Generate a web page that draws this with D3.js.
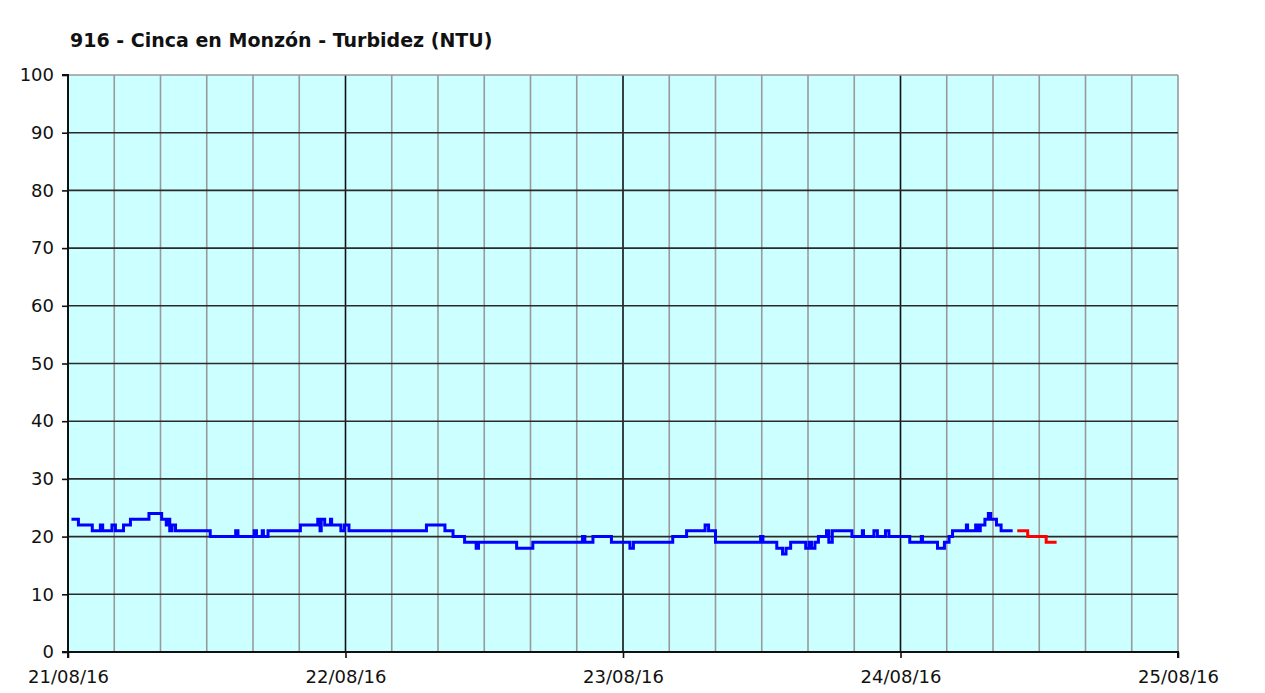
<!DOCTYPE html>
<html>
<head>
<meta charset="utf-8">
<title>916 - Cinca en Monzón - Turbidez (NTU)</title>
<script src="https://cdn.jsdelivr.net/npm/d3@7"></script>
<style>
  body { margin: 0; background: #fff; }
  text { font-family: "DejaVu Sans", Verdana, sans-serif; fill: #111; }
</style>
</head>
<body>
<svg id="graph" width="1265" height="693"></svg>
<script>
// hours from 21/08/16 00:00 where the value changes (step data), and the value from there on
var blueHours = [0.3, 0.9, 2.1, 2.8, 3.0, 3.8, 4.1, 4.8, 5.4, 7.0, 8.1, 8.5, 8.6, 8.8, 9.0, 9.3,
  12.3, 14.5, 14.7, 16.1, 16.3, 16.8, 16.9, 17.3, 20.1, 21.6, 21.8, 21.9, 22.2, 22.7, 22.8, 23.6, 23.9, 24.3,
  31.0, 32.6, 33.3, 34.3, 35.3, 35.5, 38.8, 40.2, 44.5, 44.7, 45.4, 47.0, 48.6, 48.9,
  52.3, 53.5, 55.1, 55.4, 56.0, 59.9, 60.1, 61.3, 61.8, 62.1, 62.5, 63.8, 64.1, 64.3, 64.6, 64.9,
  65.6, 65.8, 66.1, 67.8, 68.7, 68.8, 69.7, 70.0, 70.7, 71.0, 72.8, 73.8, 73.9, 75.2, 75.8, 76.2,
  76.5, 77.7, 77.8, 78.5, 78.7, 78.9, 79.3, 79.6, 79.8, 80.3, 80.7, 81.7];
var blueValues = [23, 22, 21, 22, 21, 22, 21, 22, 23, 24, 23, 22, 23, 21, 22, 21,
  20, 21, 20, 21, 20, 21, 20, 21, 22, 23, 21, 23, 22, 23, 22, 21, 22, 21,
  22, 21, 20, 19, 18, 19, 18, 19, 20, 19, 20, 19, 18, 19,
  20, 21, 22, 21, 19, 20, 19, 18, 17, 18, 19, 18, 19, 18, 19, 20,
  21, 19, 21, 20, 21, 20, 21, 20, 21, 20, 19, 20, 19, 18, 19, 20,
  21, 22, 21, 22, 21, 22, 23, 24, 23, 22, 21, 21];
var redHours = [82.1, 83.0, 84.6, 85.5];
var redValues = [21, 20, 19, 19];

var title = "916 - Cinca en Monzón - Turbidez (NTU)";
var yTicks = [0, 10, 20, 30, 40, 50, 60, 70, 80, 90, 100];
var start = new Date(2016, 7, 21), end = new Date(2016, 7, 25);

var svg = d3.select("#graph");
var plotL = 68, plotR = 1178, plotT = 75, plotB = 652;

var x = d3.scaleTime().domain([start, end]).range([plotL, plotR]);
var y = d3.scaleLinear().domain([0, 100]).range([plotB, plotT]);

svg.append("text")
  .attr("x", 70).attr("y", 47)
  .style("font-size", "19px").style("font-weight", "bold")
  .text(title);

svg.append("rect")
  .attr("x", plotL).attr("y", plotT)
  .attr("width", plotR - plotL).attr("height", plotB - plotT)
  .attr("fill", "#ccffff");

// 4 hour grid lines, black at midnight
svg.append("g").selectAll("line")
  .data(d3.timeHour.every(4).range(start, d3.timeHour.offset(end, 1)))
  .enter().append("line")
  .attr("x1", d => x(d)).attr("x2", d => x(d))
  .attr("y1", plotT).attr("y2", plotB)
  .attr("stroke", d => (d.getHours() == 0 && +d != +start && +d != +end) ? "#111" : "#9a9a9a")
  .attr("stroke-width", 1.6);

svg.append("g").selectAll("line")
  .data(yTicks.slice(1, -1))
  .enter().append("line")
  .attr("x1", plotL).attr("x2", plotR)
  .attr("y1", d => y(d)).attr("y2", d => y(d))
  .attr("stroke", "#2a2a2a").attr("stroke-width", 1.6);

svg.append("line")
  .attr("x1", plotL).attr("x2", plotR).attr("y1", plotT).attr("y2", plotT)
  .attr("stroke", "#9a9a9a").attr("stroke-width", 1.6);

function series(hours, values) {
  return hours.map((h, i) => ({ t: new Date(+start + h * 3600000), v: values[i] }));
}

var line = d3.line().x(d => x(d.t)).y(d => y(d.v)).curve(d3.curveStepAfter);

svg.append("path").datum(series(blueHours, blueValues))
  .attr("d", line).attr("fill", "none")
  .attr("stroke", "#0000ff").attr("stroke-width", 3);

svg.append("path").datum(series(redHours, redValues))
  .attr("d", line).attr("fill", "none")
  .attr("stroke", "#ff0000").attr("stroke-width", 3);

var yAxis = svg.append("g")
  .attr("transform", "translate(" + plotL + ",0)")
  .call(d3.axisLeft(y).tickValues(yTicks).tickSize(6).tickPadding(8));
var xAxis = svg.append("g")
  .attr("transform", "translate(0," + plotB + ")")
  .call(d3.axisBottom(x).ticks(d3.timeDay.every(1)).tickFormat(d3.timeFormat("%d/%m/%y")).tickSize(6).tickPadding(12));

[yAxis, xAxis].forEach(a => {
  a.select(".domain").attr("stroke", "#111").attr("stroke-width", 2);
  a.selectAll(".tick line").attr("stroke", "#111").attr("stroke-width", 1.6);
  a.selectAll("text").style("font-size", "18px").attr("fill", "#111")
    .style("font-family", "'DejaVu Sans', Verdana, sans-serif");
});
yAxis.select(".domain").attr("d", "M-6," + plotT + "H0V" + plotB + "H-6");
xAxis.select(".domain").attr("d", "M" + plotL + ",6V0H" + plotR + "V6");
</script>
</body>
</html>
